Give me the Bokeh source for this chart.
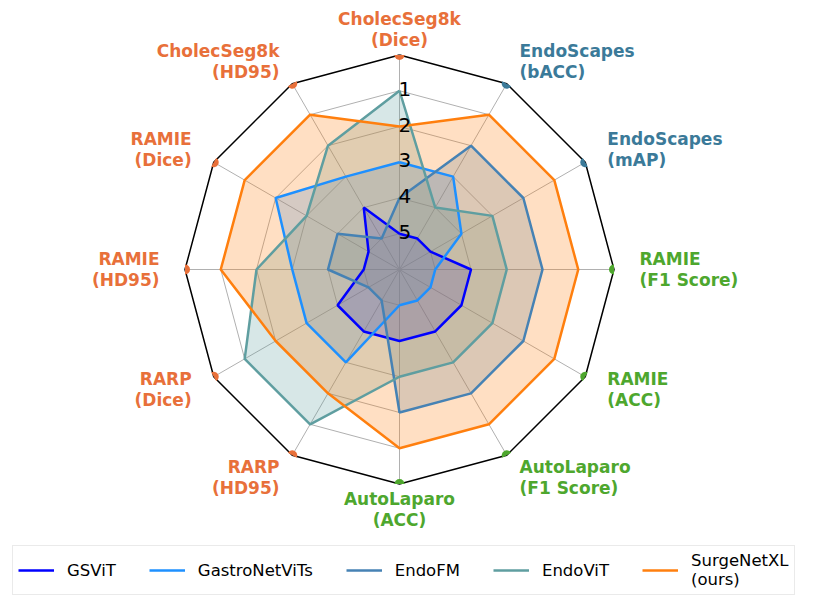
import numpy as np
from bokeh.plotting import figure
from bokeh.models import Range1d, Legend, LegendItem
from bokeh.core.properties import value
from bokeh.embed import file_html
from bokeh.resources import INLINE

# ---------------- data ----------------
categories = [
    "CholecSeg8k\n(Dice)", "EndoScapes\n(bACC)", "EndoScapes\n(mAP)",
    "RAMIE\n(F1 Score)", "RAMIE\n(ACC)", "AutoLaparo\n(F1 Score)",
    "AutoLaparo\n(ACC)", "RARP\n(HD95)", "RARP\n(Dice)",
    "RAMIE\n(HD95)", "RAMIE\n(Dice)", "CholecSeg8k\n(HD95)",
]
category_groups = ["seg", "det", "det", "cls", "cls", "cls", "cls",
                   "seg", "seg", "seg", "seg", "seg"]
group_colors = {"seg": "#E8703A", "det": "#3B7A99", "cls": "#4EA72E"}

models = ["GSViT", "GastroNetViTs", "EndoFM", "EndoViT", "SurgeNetXL\n(ours)"]
model_colors = ["#0000FF", "#1E90FF", "#4682B4", "#5F9EA0", "#FF7F0E"]
gsvit_rank = [5, 5, 5, 4, 4, 4, 4, 4, 4, 5, 5, 4]
gastronet_rank = [3, 3, 4, 5, 5, 5, 5, 3, 3, 3, 2, 3]
endofm_rank = [4, 2, 2, 2, 2, 2, 2, 5, 5, 4, 4, 5]
endovit_rank = [1, 4, 3, 3, 3, 3, 3, 1, 1, 2, 3, 2]
surgenet_rank = [2, 1, 1, 1, 1, 1, 1, 2, 2, 1, 1, 1]
rank_ticks = [1, 2, 3, 4, 5]
rank_tick_labels = ["1", "2", "3", "4", "5"]
outer_rank = 6  # rank at centre is 6, outer frame at rank 0

# ---------------- geometry ----------------
W, H = 798, 596
S = 35.75            # pixels per radial unit
CX, CY = 399, 269    # centre in figure pixels (from left, from top)
FONT = "DejaVu Sans"

p = figure(width=W, height=H, output_backend="svg", toolbar_location=None,
           x_range=Range1d(-CX / S, (W - CX) / S),
           y_range=Range1d(-(H - CY) / S, CY / S),
           min_border=0, outline_line_color=None)
p.axis.visible = False
p.grid.visible = False
p.background_fill_color = "white"
p.border_fill_color = "white"

n = len(categories)
theta = np.pi / 2 - np.arange(n) * 2 * np.pi / n   # clockwise from top
ux, uy = np.cos(theta), np.sin(theta)


def to_r(ranks):
    return outer_rank - np.asarray(ranks, dtype=float)


def closed(a):
    return list(a) + [a[0]]


# gridlines (rings) and spokes
for rk in rank_ticks:
    r = outer_rank - rk
    p.line(closed(r * ux), closed(r * uy), line_color="#b0b0b0", line_width=1)
R = float(outer_rank)
p.multi_line([[0, R * x] for x in ux], [[0, R * y] for y in uy],
             line_color="#b0b0b0", line_width=1)

# series: fills first, then outlines on top
series = [gsvit_rank, gastronet_rank, endofm_rank, endovit_rank, surgenet_rank]
for ranks, col in zip(series, model_colors):
    r = to_r(ranks)
    p.patch(list(r * ux), list(r * uy), fill_color=col, fill_alpha=0.25, line_color=None)
renderers = []
for ranks, col in zip(series, model_colors):
    r = to_r(ranks)
    lr = p.line(closed(r * ux), closed(r * uy), line_color=col, line_width=2.5)
    renderers.append(lr)

# outer frame
p.line(closed(R * ux), closed(R * uy), line_color="black", line_width=1.5)

# half dots at the outer vertices
dot_cols = [group_colors[g] for g in category_groups]
p.wedge(x=list(R * ux), y=list(R * uy), radius=5 / S,
        start_angle=list(theta + np.pi / 2), end_angle=list(theta + 3 * np.pi / 2),
        fill_color=dot_cols, line_color=None)

# radial tick labels
tick_r = np.array([outer_rank - t for t in rank_ticks], dtype=float)
p.text(x=[-1 / S] * len(rank_ticks), y=list(tick_r + 2 / S), text=rank_tick_labels,
       text_font=value(FONT), text_font_size="20px", text_color="black",
       text_align="left", text_baseline="alphabetic")

# category labels
LR = 240 / S
aligns = []
for x in ux:
    if x > 0.01:
        aligns.append("left")
    elif x < -0.01:
        aligns.append("right")
    else:
        aligns.append("center")
p.text(x=list(LR * ux), y=list(LR * uy), text=categories,
       text_font=value(FONT), text_font_size="17px", text_font_style="bold",
       text_color=dot_cols, text_align=aligns, text_baseline="middle",
       text_line_height=1.08)

# legend
legend = Legend(
    items=[LegendItem(label=m, renderers=[r]) for m, r in zip(models, renderers)],
    orientation="horizontal", location=(12, 1),
    glyph_width=36, glyph_height=20, label_standoff=13, spacing=33,
    padding=5, margin=0, label_height=38,
    label_text_font=FONT, label_text_font_size="16.5px",
    label_text_color="black", label_text_line_height=1.1,
    border_line_color="#d6d6d6", border_line_width=1.2,
    background_fill_color="white", background_fill_alpha=1.0,
)
p.add_layout(legend)

open("out.html", "w").write(file_html(p, INLINE))
